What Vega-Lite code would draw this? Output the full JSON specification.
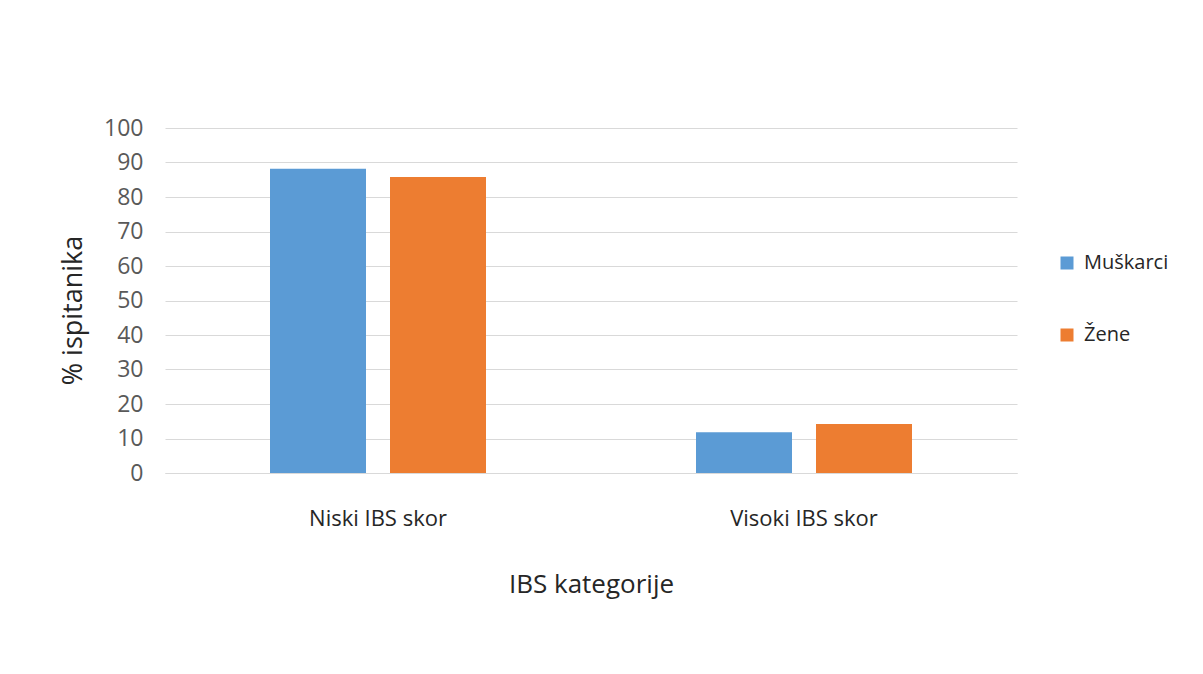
{
  "$schema": "https://vega.github.io/schema/vega-lite/v6.json",
  "autosize": "none",
  "width": 852,
  "height": 345,
  "padding": {"left": 165, "top": 128, "right": 186, "bottom": 201},
  "background": "white",
  "config": {
    "font": "Open Sans",
    "view": {"stroke": null}
  },
  "data": {
    "values": [
      {"kategorija": "Niski IBS skor", "spol": "Muškarci", "postotak": 88.2},
      {"kategorija": "Niski IBS skor", "spol": "Žene", "postotak": 85.8},
      {"kategorija": "Visoki IBS skor", "spol": "Muškarci", "postotak": 11.8},
      {"kategorija": "Visoki IBS skor", "spol": "Žene", "postotak": 14.2}
    ]
  },
  "mark": {"type": "bar"},
  "encoding": {
    "x": {
      "field": "kategorija",
      "type": "nominal",
      "sort": null,
      "scale": {"paddingInner": 0, "paddingOuter": 0},
      "axis": {
        "title": "IBS kategorije",
        "titleFontSize": 26,
        "titleFontWeight": "normal",
        "titleColor": "#262626",
        "titlePadding": 42,
        "labelAngle": 0,
        "labelFontSize": 22,
        "labelColor": "#262626",
        "labelPadding": 35,
        "ticks": false,
        "domainColor": "#d9d9d9",
        "grid": false
      }
    },
    "xOffset": {
      "field": "spol",
      "type": "nominal",
      "scale": {"paddingInner": 0.2, "paddingOuter": 0.875}
    },
    "y": {
      "field": "postotak",
      "type": "quantitative",
      "scale": {"domain": [0, 100]},
      "axis": {
        "title": "% ispitanika",
        "titleFontSize": 27,
        "titleFontWeight": "normal",
        "titleColor": "#262626",
        "titlePadding": 16,
        "titleY": 182,
        "values": [0, 10, 20, 30, 40, 50, 60, 70, 80, 90, 100],
        "labelFontSize": 23,
        "labelColor": "#595959",
        "labelPadding": 22,
        "ticks": false,
        "domain": false,
        "gridColor": "#d9d9d9",
        "gridWidth": 1
      }
    },
    "color": {
      "field": "spol",
      "type": "nominal",
      "scale": {"domain": ["Muškarci", "Žene"], "range": ["#5B9BD5", "#ED7D31"]},
      "legend": {
        "title": null,
        "orient": "none",
        "legendX": 892,
        "legendY": 125,
        "symbolType": "square",
        "symbolSize": 169,
        "symbolStrokeWidth": 0,
        "labelFontSize": 20,
        "labelColor": "#262626",
        "labelOffset": 7,
        "rowPadding": 52
      }
    }
  }
}
